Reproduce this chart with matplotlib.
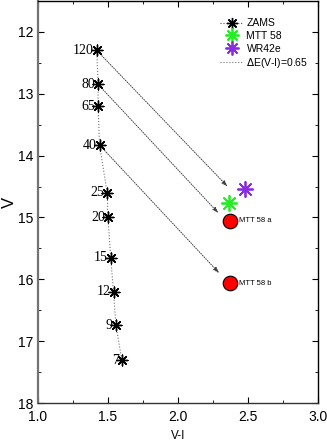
import numpy as np
import matplotlib
matplotlib.use("Agg")
import matplotlib.pyplot as plt
from matplotlib.lines import Line2D
from matplotlib.ticker import MultipleLocator

# ZAMS track (mass labels, V-I, V)
zams_mass = ["120", "80", "65", "40", "25", "20", "15", "12", "9", "7"]
zams_vi = [1.42, 1.43, 1.43, 1.44, 1.495, 1.50, 1.52, 1.54, 1.557, 1.60]
zams_v = [12.30, 12.85, 13.20, 13.83, 14.60, 15.00, 15.65, 16.20, 16.74, 17.31]

# observed stars
mtt_vi, mtt_v = [2.365], [14.76]
wr_vi, wr_v = [2.48], [14.54]
comp_names = ["MTT 58 a", "MTT 58 b"]
comp_vi = [2.37, 2.37]
comp_v = [15.05, 16.06]

# reddening vectors: start on ZAMS point -> arrow tip
arrow_from = [0, 1, 3]
arrow_to_vi = [2.355, 2.29, 2.295]
arrow_to_v = [14.50, 14.93, 15.90]

plt.rcParams['font.family'] = ['Liberation Sans', 'DejaVu Sans']
asterisk = (8, 2, 0)

fig = plt.figure(figsize=(3.27, 4.41), dpi=100)
ax = fig.add_axes([0.116, 0.086, 0.856, 0.912])

ax.plot(zams_vi, zams_v, ls=':', lw=0.8, color='0.45', zorder=2)
ax.scatter(zams_vi, zams_v, marker=asterisk, s=60, color='black', lw=1.0, zorder=3)
for lab, x, y in zip(zams_mass, zams_vi, zams_v):
    ax.text(x - 0.022, y, lab, ha='right', va='center', fontsize=10,
            family='Liberation Serif')

for i, tx, ty in zip(arrow_from, arrow_to_vi, arrow_to_v):
    ax.annotate("", xy=(tx, ty), xytext=(zams_vi[i], zams_v[i]),
                arrowprops=dict(arrowstyle='-|>,head_length=0.35,head_width=0.12',
                                ls=(0, (1, 1.5)), lw=0.7, color='0.25',
                                shrinkA=0, shrinkB=0), zorder=2)

ax.scatter(mtt_vi, mtt_v, marker=asterisk, s=120, color='#22ee22', lw=1.3, zorder=4)
ax.scatter(wr_vi, wr_v, marker=asterisk, s=120, color='#8a2be2', lw=1.3, zorder=4)
ax.scatter(comp_vi, comp_v, marker='o', s=110, facecolor='red', edgecolor='black',
           lw=0.8, zorder=4)
for lab, x, y in zip(comp_names, comp_vi, comp_v):
    ax.text(x + 0.07, y, lab, ha='left', va='center', fontsize=5.5)

ax.set_xlim(1.0, 3.0)
ax.set_ylim(18, 11.5)
ax.xaxis.set_major_locator(MultipleLocator(0.5))
ax.xaxis.set_minor_locator(MultipleLocator(0.25))
ax.yaxis.set_major_locator(MultipleLocator(1))
ax.yaxis.set_minor_locator(MultipleLocator(0.5))
ax.xaxis.set_major_formatter(plt.FormatStrFormatter('%.1f'))
ax.tick_params(which='both', direction='in', top=True, right=True, labelsize=10)
ax.tick_params(axis='x', pad=5)
ax.tick_params(axis='y', pad=3)
ax.tick_params(which='major', length=4.5)
ax.tick_params(which='minor', length=2.5)
for s in ax.spines.values():
    s.set_linewidth(1.0)
ax.spines['left'].set_color('0.45')
ax.spines['left'].set_linewidth(1.6)
ax.spines['bottom'].set_color('0.2')
ax.set_xlabel("V-I", fontsize=8.5, labelpad=4)
ax.set_ylabel("V", fontsize=12, labelpad=1)

handles = [
    Line2D([], [], ls=':', lw=0.8, color='0.3', marker=asterisk, ms=8, mec='black', mew=1.0),
    Line2D([], [], ls='none', marker=asterisk, ms=10, mec='#22ee22', mew=1.3),
    Line2D([], [], ls='none', marker=asterisk, ms=10, mec='#8a2be2', mew=1.3),
    Line2D([], [], ls=':', lw=0.8, color='0.45'),
]
labels = ["ZAMS", "MTT 58", "WR42e", r"$\Delta$E(V-I)=0.65"]
ax.legend(handles, labels, loc='upper right', frameon=False, fontsize=7.5,
          handlelength=2.2, handletextpad=0.3, labelspacing=0.25,
          bbox_to_anchor=(1.0, 0.98))

fig.savefig("out.png", dpi=100)
